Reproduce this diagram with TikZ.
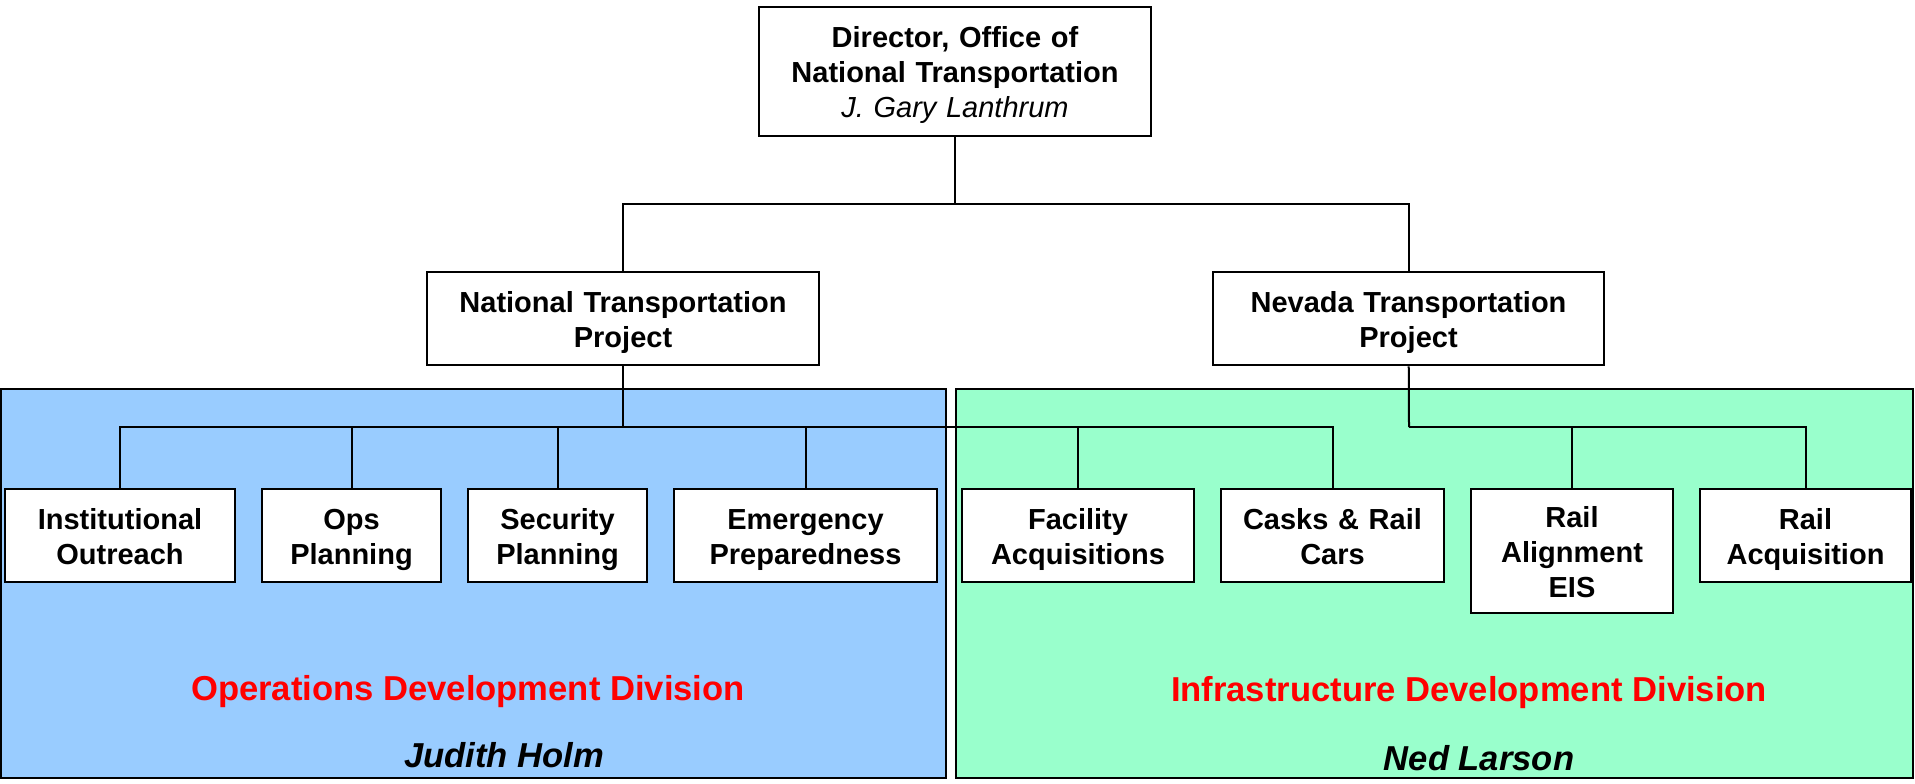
\documentclass[tikz,border=0pt]{standalone}
\usepackage{fontspec}
\setmainfont{Liberation Sans}
\usepackage{xcolor}
\usetikzlibrary{positioning}
\definecolor{opsblue}{HTML}{99CCFF}
\definecolor{infgreen}{HTML}{99FFCC}
\tikzset{
  unit/.style={draw, fill=white, line width=1.25pt, align=center, inner sep=0pt,
    font=\fontsize{14.5}{17.4}\selectfont\bfseries,
    execute at begin node={\rule{0pt}{16.5pt}}, execute at end node=\strut},
  boxsize/.style 2 args={minimum width=#1, text width=#1, minimum height=#2},
  link/.style={line width=1pt},
  division/.style={text=red, font=\fontsize{17.3}{20}\selectfont\bfseries},
  head/.style={font=\fontsize{17.3}{20}\selectfont\bfseries\itshape}
}
\begin{document}
\begin{tikzpicture}[x=0.5pt, y=-0.5pt]
    \useasboundingbox (0,0) rectangle (1915,783);
    \draw[fill=opsblue, line width=1pt] (1,389) rectangle (946,778);
    \draw[fill=infgreen, line width=1pt] (956,389) rectangle (1913,778);
    \node[division] (opsdiv) at (468,692) {Operations Development Division};
    \node[head] (opshead) at (504,755) {Judith Holm};
    \node[division] (infdiv) at (1469,693) {Infrastructure Development Division};
    \node[head] (infhead) at (1479,758) {Ned Larson};

    \node[unit, boxsize={196pt}{64.5pt}] (director) at (955,71.5)
        {Director, Office of\\National Transportation\\{\mdseries\itshape J. Gary Lanthrum}};
    \node[unit, boxsize={196pt}{46.5pt}] (national) at (623,318.5) {National Transportation\\Project};
    \node[unit, boxsize={195.5pt}{46.5pt}] (nevada) at (1408.5,318.5) {Nevada Transportation\\Project};

    \node[unit, boxsize={115pt}{46.5pt}] (outreach) at (120,535.5) {Institutional\\Outreach};
    \node[unit, boxsize={89.5pt}{46.5pt}] (opsplan) at (351.5,535.5) {Ops\\Planning};
    \node[unit, boxsize={89.5pt}{46.5pt}] (secplan) at (557.5,535.5) {Security\\Planning};
    \node[unit, boxsize={131.5pt}{46.5pt}] (emerg) at (805.5,535.5) {Emergency\\Preparedness};
    \node[unit, boxsize={116pt}{46.5pt}] (facility) at (1078,535.5) {Facility\\Acquisitions};
    \node[unit, boxsize={111.5pt}{46.5pt}] (casks) at (1332.5,535.5) {Casks \& Rail\\Cars};
    \node[unit, boxsize={101pt}{62pt}] (alignment) at (1572,551) {Rail\\Alignment\\EIS};
    \node[unit, boxsize={105.5pt}{46.5pt}] (railacq) at (1805.5,535.5) {Rail\\Acquisition};

    \coordinate (split) at (955,204);
    \coordinate (natbus) at (623,427);
    \coordinate (nevbus) at (1409,427);
    \draw[link] (director) -- (split);
    \draw[link] (national.north) |- (split) -| (nevada.north);
    \draw[link] (national) -- (natbus);
    \draw[link] (nevada) -- (nevbus);
    \foreach \sub in {outreach, opsplan, secplan, emerg, facility, casks}
        \draw[link] (natbus) -| (\sub.north);
    \foreach \sub in {alignment, railacq}
        \draw[link] (nevbus) -| (\sub.north);
\end{tikzpicture}
\end{document}
